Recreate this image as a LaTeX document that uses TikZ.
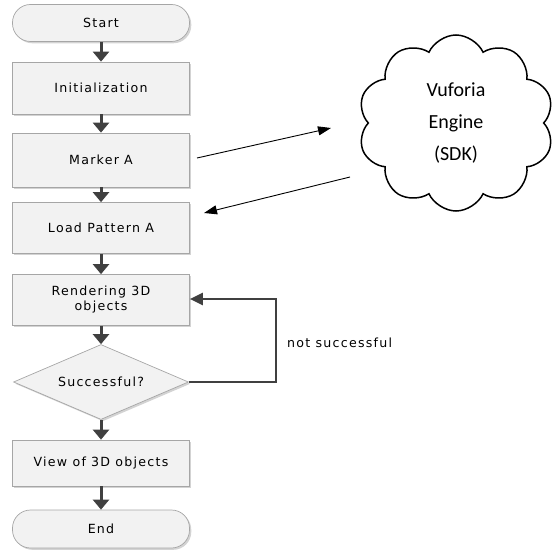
\documentclass[tikz,border=0pt]{standalone}
\usepackage{fontspec}
\usetikzlibrary{shapes.geometric,shapes.symbols,arrows.meta,shadows}
\newfontfamily\flowfont[LetterSpace=10]{DejaVu Sans}
\newfontfamily\cloudfont{Carlito}
\definecolor{arrowgray}{HTML}{404040}
\definecolor{boxborder}{HTML}{A6A6A6}
\definecolor{boxfill}{HTML}{F2F2F2}
\tikzset{
  shade/.style={drop shadow={shadow xshift=1.8pt,shadow yshift=-1.8pt,opacity=0.35,fill=gray}},
  procbox/.style={draw=boxborder,fill=boxfill,line width=0.7pt,minimum width=177pt,inner sep=0pt,
     align=center,font=\flowfont\fontsize{12.6}{15}\selectfont,shade},
  termbox/.style={procbox,rounded corners=18pt},
  decbox/.style={diamond,shape aspect=2.33,draw=boxborder,fill=boxfill,line width=0.7pt,minimum width=175pt,minimum height=75pt,
     inner sep=0pt,font=\flowfont\fontsize{12.6}{15}\selectfont,shade},
  flow/.style={draw=arrowgray,line width=3pt,-{Triangle[length=10pt,width=16pt]}},
  loopline/.style={draw=arrowgray,line width=2.2pt,-{Triangle[length=13pt,width=12pt]}},
  sdkarrow/.style={draw=black,line width=0.9pt,-{Triangle[length=13pt,width=9pt]}},
}
\begin{document}
\begin{tikzpicture}[x=1pt,y=-1pt]
\useasboundingbox (0,0) rectangle (556,553);
\node[termbox,minimum height=37pt] (start) at (101,23) {Start};
\node[procbox,minimum height=52pt] (init) at (101,88) {Initialization};
\node[procbox,minimum height=54pt] (marker) at (101,160) {Marker A};
\node[procbox,minimum height=51pt] (load) at (101,228) {Load Pattern A};
\node[procbox,minimum height=51pt] (render) at (101,300) {Rendering 3D\\objects};
\node[decbox] (dec) at (101,382) {Successful?};
\node[procbox,minimum height=46pt] (view) at (101,463) {View of 3D objects};
\node[termbox,minimum height=38pt] (end) at (101,529) {End};
\node[cloud,cloud puffs=10,cloud puff arc=130,aspect=1.1,draw=black,line width=1.5pt,
  minimum width=196pt,minimum height=176pt,inner sep=0pt,align=center,
  font=\cloudfont\fontsize{20}{32}\selectfont] (sdk) at (456,123) {Vuforia\\Engine\\(SDK)};
\draw[flow] (start) -- (init);
\draw[flow] (init) -- (marker);
\draw[flow] (marker) -- (load);
\draw[flow] (load) -- (render);
\draw[flow] (render) -- (dec.north);
\draw[flow] (dec.south) -- (view);
\draw[flow] (view) -- (end);
\coordinate (c1) at (197,158);
\coordinate (c2) at (331,128);
\coordinate (c3) at (350,177);
\coordinate (c4) at (204,213);
\draw[sdkarrow] (c1) -- (c2);
\draw[sdkarrow] (c3) -- (c4);
\coordinate (lp1) at (276,382);
\coordinate (lp2) at (276,299);
\draw[loopline] (dec.east) -- (lp1) -- (lp2) -- (render.east |- lp2);
\node[anchor=west,font=\flowfont\fontsize{12.6}{15}\selectfont,inner sep=0pt] (lbl) at (287,343) {not successful};
\end{tikzpicture}
\end{document}
